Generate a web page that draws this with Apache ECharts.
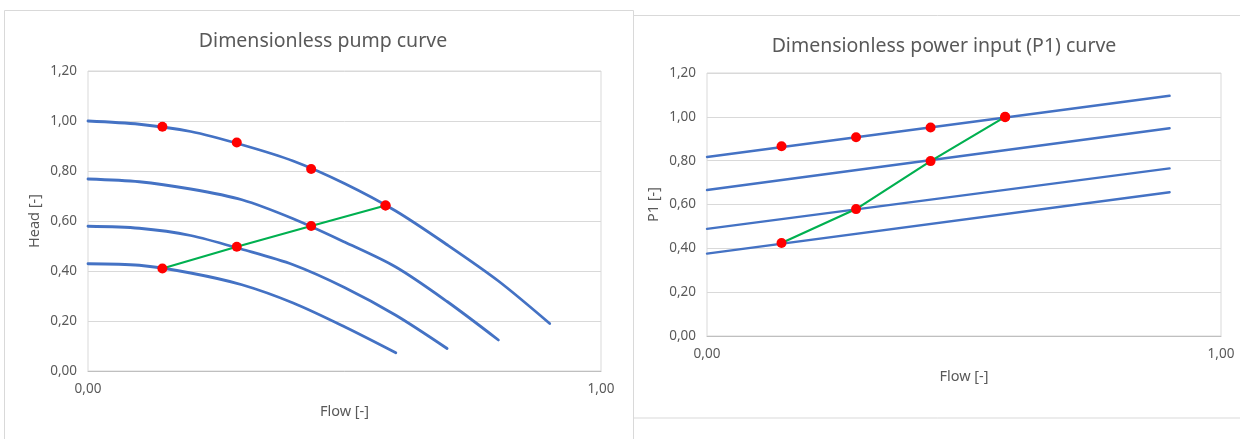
<!DOCTYPE html>
<html>
<head>
<meta charset="utf-8">
<script src="https://cdn.jsdelivr.net/npm/echarts@6/dist/echarts.min.js"></script>
<style>
html,body{margin:0;padding:0;background:#fff;}
#chart{width:1240px;height:439px;}
</style>
</head>
<body>
<div id="chart"></div>
<script>
// ---------- Data: pump curve (left) ----------
const titlePump = 'Dimensionless pump curve';
const titlePower = 'Dimensionless power input (P1) curve';
const flowName = 'Flow [-]';
const headName = 'Head [-]';
const p1Name = 'P1 [-]';

const curveFlow = [0, 0.1, 0.2, 0.3, 0.4, 0.5, 0.6, 0.7, 0.8, 0.9];
const headSpeed1 = [1.00, 0.987, 0.958, 0.905, 0.84, 0.75, 0.64, 0.505, 0.36, 0.19];
const headSpeed2 = [0.768, 0.757, 0.728, 0.685, 0.609, 0.516, 0.416, 0.278, 0.124];
const headSpeed3 = [0.579, 0.571, 0.542, 0.487, 0.425, 0.334, 0.223, 0.09];
const headSpeed4 = [0.429, 0.423, 0.392, 0.345, 0.272, 0.177, 0.073];

const opFlow = [0.145, 0.29, 0.435, 0.58];
const opHeadTop = [0.977, 0.914, 0.808, 0.662];
const opHeadSystem = [0.41, 0.497, 0.58, 0.662];

// ---------- Data: power curve (right) ----------
const p1Flow = [0, 0.9];
const p1Speed1 = [0.817, 1.096];
const p1Speed2 = [0.666, 0.948];
const p1Speed3 = [0.489, 0.765];
const p1Speed4 = [0.376, 0.656];
const opP1Top = [0.866, 0.907, 0.951, 0.998];
const opP1System = [0.424, 0.579, 0.798, 1.0];

const xTicks = [0, 1];
const yMin = 0, yMax = 1.2, yStep = 0.2;

// ---------- Helpers ----------
const zip = (xs, ys) => ys.map((y, i) => [xs[i], y]);
const fmt = v => v.toFixed(2).replace('.', ',');
const FONT = 'Noto Sans';
const TXT = '#595959';
const BLUE = '#4472C4';
const GREEN = '#00B050';
const RED = '#FF0000';
const GRIDC = '#D9D9D9';

function xAxisCfg(gi) {
  return {
    gridIndex: gi, type: 'value', min: xTicks[0], max: xTicks[xTicks.length - 1], interval: 1,
    name: flowName, nameLocation: 'middle', nameGap: 33,
    nameTextStyle: {color: TXT, fontFamily: FONT, fontSize: 14.5},
    axisLine: {show: true, lineStyle: {color: '#BFBFBF', width: 1}},
    axisTick: {show: false},
    axisLabel: {color: TXT, fontFamily: FONT, fontSize: 13.5, margin: 11, formatter: fmt},
    splitLine: {show: false}
  };
}
function yAxisCfg(gi, name, gap) {
  return {
    gridIndex: gi, type: 'value', min: yMin, max: yMax, interval: yStep,
    name: name, nameLocation: 'middle', nameGap: gap, nameRotate: 90,
    nameTextStyle: {color: TXT, fontFamily: FONT, fontSize: 14.5},
    axisLine: {show: false}, axisTick: {show: false},
    axisLabel: {color: TXT, fontFamily: FONT, fontSize: 13.5, margin: 11, formatter: fmt},
    splitLine: {show: true, lineStyle: {color: GRIDC, width: 1}}
  };
}
function blueLine(gi, data, smooth, w) {
  return {
    type: 'line', xAxisIndex: gi, yAxisIndex: gi, data: data, smooth: smooth,
    showSymbol: false, symbol: 'none', silent: true, z: 2,
    lineStyle: {color: BLUE, width: w, cap: 'round'}
  };
}
function greenLine(gi, data) {
  return {
    type: 'line', xAxisIndex: gi, yAxisIndex: gi, data: data, smooth: false,
    symbol: 'circle', symbolSize: 10, showSymbol: true, silent: true, z: 3,
    lineStyle: {color: GREEN, width: 2.2},
    itemStyle: {color: RED, borderWidth: 0, opacity: 1}
  };
}
function redDots(gi, data) {
  return {
    type: 'scatter', xAxisIndex: gi, yAxisIndex: gi, data: data,
    symbol: 'circle', symbolSize: 10, silent: true, z: 4,
    itemStyle: {color: RED, opacity: 1}
  };
}

const chart = echarts.init(document.getElementById('chart'), null, {renderer: 'canvas'});
chart.setOption({
  backgroundColor: '#ffffff',
  animation: false,
  graphic: [
    {type: 'rect', shape: {x: 4.5, y: 10.5, width: 629, height: 440}, style: {fill: '#fff', stroke: GRIDC, lineWidth: 1}, z: -10, silent: true},
    {type: 'rect', shape: {x: 633.5, y: 15.5, width: 620, height: 402.5}, style: {fill: '#fff', stroke: GRIDC, lineWidth: 1}, z: -10, silent: true}
  ],
  title: [
    {text: titlePump, left: 318, top: 26, textAlign: 'center',
     textStyle: {color: TXT, fontFamily: FONT, fontSize: 19.5, fontWeight: 'normal'}},
    {text: titlePower, left: 939, top: 31, textAlign: 'center',
     textStyle: {color: TXT, fontFamily: FONT, fontSize: 19.5, fontWeight: 'normal'}}
  ],
  grid: [
    {left: 88, top: 71, width: 513, height: 300, show: true, borderColor: GRIDC, borderWidth: 1, backgroundColor: 'transparent'},
    {left: 707, top: 73, width: 514, height: 263, show: true, borderColor: GRIDC, borderWidth: 1, backgroundColor: 'transparent'}
  ],
  xAxis: [xAxisCfg(0), xAxisCfg(1)],
  yAxis: [yAxisCfg(0, headName, 46), yAxisCfg(1, p1Name, 46)],
  series: [
    blueLine(0, zip(curveFlow, headSpeed1), 0.3, 2.8),
    blueLine(0, zip(curveFlow, headSpeed2), 0.3, 2.8),
    blueLine(0, zip(curveFlow, headSpeed3), 0.3, 2.8),
    blueLine(0, zip(curveFlow, headSpeed4), 0.3, 2.8),
    greenLine(0, zip(opFlow, opHeadSystem)),
    redDots(0, zip(opFlow, opHeadTop)),
    blueLine(1, zip(p1Flow, p1Speed1), false, 2.4),
    blueLine(1, zip(p1Flow, p1Speed2), false, 2.4),
    blueLine(1, zip(p1Flow, p1Speed3), false, 2.4),
    blueLine(1, zip(p1Flow, p1Speed4), false, 2.4),
    greenLine(1, zip(opFlow, opP1System)),
    redDots(1, zip(opFlow, opP1Top))
  ]
});
</script>
</body>
</html>
